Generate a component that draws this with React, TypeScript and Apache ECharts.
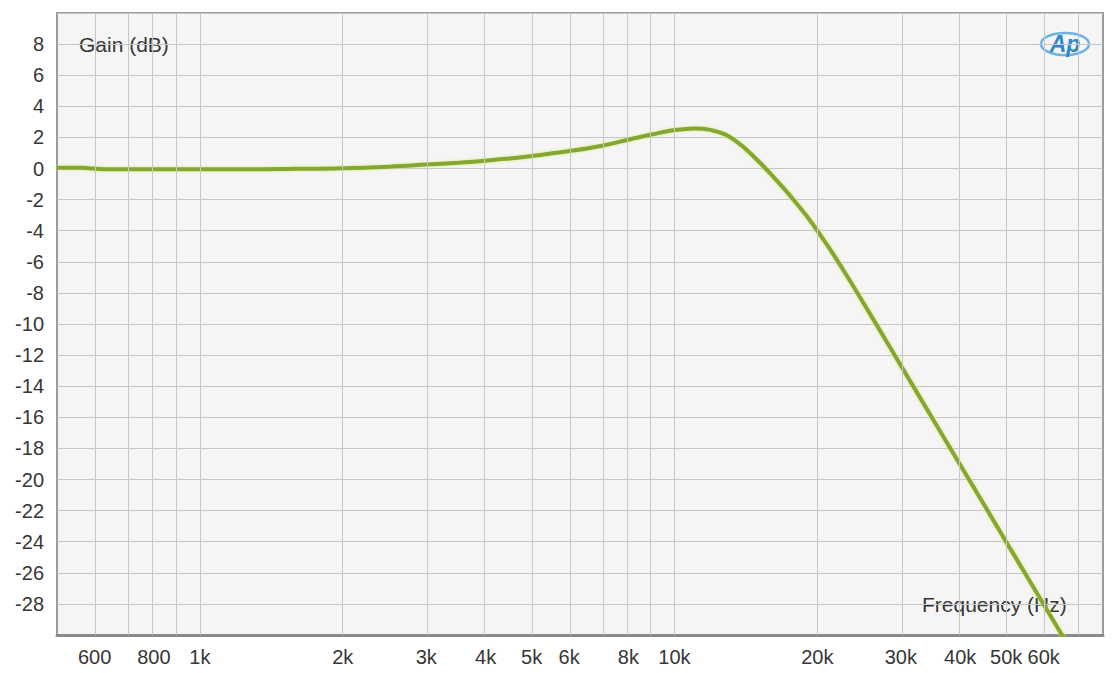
import React, { useEffect, useRef } from 'react';
import * as echarts from 'echarts';

const COLORS = {
  TEXT: '#363636',
  PLOT_BG: '#f5f5f5',
  GRID: '#c6c6c6',
  BORDER: '#9a9a9a',
  CURVE: '#84a632',
  LOGO: '#2f86c8',
};

// measured response, Hz / dB
const FREQS = [
  500, 560, 630, 710, 800, 900, 1000, 1250, 1600, 2000, 2500, 3000, 3500, 4000,
  4500, 5000, 6000, 7000, 8000, 9000, 10000, 11000, 11500, 12000, 12500, 13000,
  13500, 14000, 15000, 16000, 17000, 18000, 19000, 20000, 21500, 23000, 25000,
  27000, 30000, 35000, 40000, 45000, 50000, 55000, 60000, 65000, 70000,
];
const GAIN_DB = [
  0.05, 0.05, -0.05, -0.05, -0.05, -0.05, -0.05, -0.05, -0.02, 0.02, 0.12, 0.25,
  0.37, 0.5, 0.65, 0.8, 1.12, 1.45, 1.85, 2.2, 2.47, 2.58, 2.56, 2.45, 2.3, 2.08,
  1.75, 1.36, 0.5, -0.39, -1.28, -2.17, -3.06, -4.0, -5.41, -6.82, -8.63, -10.33,
  -12.67, -16.09, -19.05, -21.66, -24.0, -26.11, -28.04, -29.81, -31.45,
];

const X_LABELS = [600, 800, 1000, 2000, 3000, 4000, 5000, 6000, 8000, 10000, 20000, 30000, 40000, 50000, 60000];
const X_GRID = [
  600, 700, 800, 900, 1000, 2000, 3000, 4000, 5000, 6000, 7000, 8000, 9000, 10000,
  20000, 30000, 40000, 50000, 60000, 70000,
];
const X_MIN = 500;
const X_MAX = 80000;
const Y_MIN = -30;
const Y_MAX = 10;

const lg = (v: number) => Math.log10(v);

const freqLabel = (f: number) => (f >= 1000 ? `${Math.round(f / 1000)}k` : `${f}`);

const FONT = '"Liberation Sans", Arial, sans-serif';

const App: React.FC = () => {
  const divEL = useRef<HTMLDivElement>(null);

  useEffect(() => {
    const instance = echarts.init(divEL.current as any, null, { renderer: 'svg' });

    const option: echarts.EChartsOption = {
      animation: false,
      backgroundColor: '#ffffff',
      grid: {
        left: 57,
        top: 13,
        right: 9,
        bottom: 38,
        show: true,
        backgroundColor: COLORS.PLOT_BG,
        borderColor: COLORS.BORDER,
        borderWidth: 2,
      },
      xAxis: {
        type: 'value',
        min: lg(X_MIN),
        max: lg(X_MAX),
        axisLine: { show: true, onZero: false, lineStyle: { color: '#8a8a8a', width: 3 } },
        axisTick: { show: false },
        splitLine: { show: false },
        axisLabel: {
          customValues: X_LABELS.map(lg),
          formatter: (v: number) => freqLabel(Math.round(Math.pow(10, v) / 100) * 100),
          color: COLORS.TEXT,
          fontSize: 20,
          fontFamily: FONT,
          margin: 12,
        },
      },
      yAxis: {
        type: 'value',
        min: Y_MIN,
        max: Y_MAX,
        interval: 2,
        axisLine: { show: false },
        axisTick: { show: false },
        splitLine: { lineStyle: { color: COLORS.GRID, width: 1 } },
        axisLabel: {
          formatter: (v: number) => (v === Y_MIN || v === Y_MAX ? '' : `${v}`),
          color: COLORS.TEXT,
          fontSize: 20,
          fontFamily: FONT,
          margin: 13,
        },
      },
      series: [
        {
          type: 'line',
          silent: true,
          symbol: 'none',
          data: [],
          markLine: {
            silent: true,
            symbol: 'none',
            label: { show: false },
            lineStyle: { color: COLORS.GRID, width: 1, type: 'solid' },
            data: X_GRID.map((f) => ({ xAxis: lg(f) })),
          },
        },
        {
          name: 'Gain',
          type: 'line',
          symbol: 'none',
          smooth: 0.4,
          clip: true,
          data: FREQS.map((f, i) => [lg(f), GAIN_DB[i]]),
          lineStyle: {
            color: COLORS.CURVE,
            width: 4,
            shadowColor: 'rgba(205, 235, 95, 0.85)',
            shadowBlur: 3,
          },
        },
      ],
      graphic: [
        {
          type: 'text',
          x: 79,
          y: 44,
          style: {
            text: 'Gain (dB)',
            fill: COLORS.TEXT,
            font: `21px ${FONT}`,
            verticalAlign: 'middle',
          },
        },
        {
          type: 'text',
          x: 922,
          y: 604,
          style: {
            text: 'Frequency (Hz)',
            fill: COLORS.TEXT,
            font: `21px ${FONT}`,
            verticalAlign: 'middle',
          },
        },
        {
          type: 'group',
          x: 1038,
          y: 31,
          children: [
            {
              type: 'ellipse',
              shape: { cx: 27, cy: 13, rx: 24, ry: 11 },
              style: { fill: 'none', stroke: '#6fb2e2', lineWidth: 2.5 },
            },
            {
              type: 'text',
              x: 27,
              y: 13,
              style: {
                text: 'Ap',
                fill: COLORS.LOGO,
                font: `italic bold 23px ${FONT}`,
                align: 'center',
                verticalAlign: 'middle',
              },
            },
          ],
        },
      ],
    };

    instance.setOption(option);

    return () => {
      instance.dispose();
    };
  }, []);

  return (
    <div
      ref={divEL}
      style={{ position: 'absolute', left: 0, top: 0, width: 1112, height: 673 }}
    ></div>
  );
};

export default App;
